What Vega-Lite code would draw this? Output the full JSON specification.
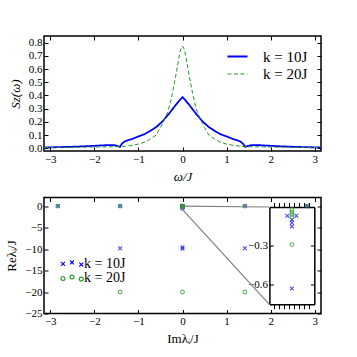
{
  "$schema": "https://vega.github.io/schema/vega-lite/v6.json",
  "padding": {"left": 5, "top": 34, "right": 5, "bottom": 5},
  "background": "white",
  "datasets": {
    "curves": [
      {"w": -3.1416, "S": 0.007, "series": "k = 10J"},
      {"w": -2.8, "S": 0.009, "series": "k = 10J"},
      {"w": -2.4, "S": 0.013, "series": "k = 10J"},
      {"w": -2.0, "S": 0.019, "series": "k = 10J"},
      {"w": -1.8, "S": 0.023, "series": "k = 10J"},
      {"w": -1.65, "S": 0.025, "series": "k = 10J"},
      {"w": -1.55, "S": 0.024, "series": "k = 10J"},
      {"w": -1.48, "S": 0.018, "series": "k = 10J"},
      {"w": -1.42, "S": 0.011, "series": "k = 10J"},
      {"w": -1.38, "S": 0.032, "series": "k = 10J"},
      {"w": -1.32, "S": 0.05, "series": "k = 10J"},
      {"w": -1.25, "S": 0.06, "series": "k = 10J"},
      {"w": -1.15, "S": 0.07, "series": "k = 10J"},
      {"w": -1.0, "S": 0.09, "series": "k = 10J"},
      {"w": -0.87, "S": 0.106, "series": "k = 10J"},
      {"w": -0.75, "S": 0.128, "series": "k = 10J"},
      {"w": -0.6, "S": 0.16, "series": "k = 10J"},
      {"w": -0.45, "S": 0.205, "series": "k = 10J"},
      {"w": -0.3, "S": 0.265, "series": "k = 10J"},
      {"w": -0.15, "S": 0.33, "series": "k = 10J"},
      {"w": -0.05, "S": 0.37, "series": "k = 10J"},
      {"w": 0, "S": 0.388, "series": "k = 10J"},
      {"w": 0.05, "S": 0.37, "series": "k = 10J"},
      {"w": 0.15, "S": 0.33, "series": "k = 10J"},
      {"w": 0.3, "S": 0.265, "series": "k = 10J"},
      {"w": 0.45, "S": 0.205, "series": "k = 10J"},
      {"w": 0.6, "S": 0.16, "series": "k = 10J"},
      {"w": 0.75, "S": 0.128, "series": "k = 10J"},
      {"w": 0.87, "S": 0.106, "series": "k = 10J"},
      {"w": 1.0, "S": 0.09, "series": "k = 10J"},
      {"w": 1.15, "S": 0.07, "series": "k = 10J"},
      {"w": 1.25, "S": 0.06, "series": "k = 10J"},
      {"w": 1.32, "S": 0.05, "series": "k = 10J"},
      {"w": 1.38, "S": 0.032, "series": "k = 10J"},
      {"w": 1.42, "S": 0.011, "series": "k = 10J"},
      {"w": 1.48, "S": 0.018, "series": "k = 10J"},
      {"w": 1.55, "S": 0.024, "series": "k = 10J"},
      {"w": 1.65, "S": 0.025, "series": "k = 10J"},
      {"w": 1.8, "S": 0.023, "series": "k = 10J"},
      {"w": 2.0, "S": 0.019, "series": "k = 10J"},
      {"w": 2.4, "S": 0.013, "series": "k = 10J"},
      {"w": 2.8, "S": 0.009, "series": "k = 10J"},
      {"w": 3.1416, "S": 0.007, "series": "k = 10J"},
      {"w": -3.1416, "S": 0.006, "series": "k = 20J"},
      {"w": -2.5, "S": 0.008, "series": "k = 20J"},
      {"w": -2.0, "S": 0.01, "series": "k = 20J"},
      {"w": -1.6, "S": 0.012, "series": "k = 20J"},
      {"w": -1.42, "S": 0.013, "series": "k = 20J"},
      {"w": -1.3, "S": 0.017, "series": "k = 20J"},
      {"w": -1.17, "S": 0.022, "series": "k = 20J"},
      {"w": -1.0, "S": 0.032, "series": "k = 20J"},
      {"w": -0.87, "S": 0.046, "series": "k = 20J"},
      {"w": -0.75, "S": 0.066, "series": "k = 20J"},
      {"w": -0.6, "S": 0.1, "series": "k = 20J"},
      {"w": -0.5, "S": 0.158, "series": "k = 20J"},
      {"w": -0.42, "S": 0.212, "series": "k = 20J"},
      {"w": -0.34, "S": 0.27, "series": "k = 20J"},
      {"w": -0.28, "S": 0.34, "series": "k = 20J"},
      {"w": -0.23, "S": 0.415, "series": "k = 20J"},
      {"w": -0.18, "S": 0.5, "series": "k = 20J"},
      {"w": -0.12, "S": 0.61, "series": "k = 20J"},
      {"w": -0.08, "S": 0.69, "series": "k = 20J"},
      {"w": -0.04, "S": 0.75, "series": "k = 20J"},
      {"w": 0, "S": 0.775, "series": "k = 20J"},
      {"w": 0.04, "S": 0.75, "series": "k = 20J"},
      {"w": 0.08, "S": 0.69, "series": "k = 20J"},
      {"w": 0.12, "S": 0.61, "series": "k = 20J"},
      {"w": 0.18, "S": 0.5, "series": "k = 20J"},
      {"w": 0.23, "S": 0.415, "series": "k = 20J"},
      {"w": 0.28, "S": 0.34, "series": "k = 20J"},
      {"w": 0.34, "S": 0.27, "series": "k = 20J"},
      {"w": 0.42, "S": 0.212, "series": "k = 20J"},
      {"w": 0.5, "S": 0.158, "series": "k = 20J"},
      {"w": 0.6, "S": 0.1, "series": "k = 20J"},
      {"w": 0.75, "S": 0.066, "series": "k = 20J"},
      {"w": 0.87, "S": 0.046, "series": "k = 20J"},
      {"w": 1.0, "S": 0.032, "series": "k = 20J"},
      {"w": 1.17, "S": 0.022, "series": "k = 20J"},
      {"w": 1.3, "S": 0.017, "series": "k = 20J"},
      {"w": 1.42, "S": 0.013, "series": "k = 20J"},
      {"w": 1.6, "S": 0.012, "series": "k = 20J"},
      {"w": 2.0, "S": 0.01, "series": "k = 20J"},
      {"w": 2.5, "S": 0.008, "series": "k = 20J"},
      {"w": 3.1416, "S": 0.006, "series": "k = 20J"}
    ],
    "eig": [
      {"im": -2.828, "re": 0, "series": "k = 10J"},
      {"im": -1.414, "re": 0, "series": "k = 10J"},
      {"im": 1.414, "re": 0, "series": "k = 10J"},
      {"im": 2.828, "re": 0, "series": "k = 10J"},
      {"im": -1.414, "re": -9.8, "series": "k = 10J"},
      {"im": 0, "re": -9.6, "series": "k = 10J"},
      {"im": 0, "re": -9.95, "series": "k = 10J"},
      {"im": 1.414, "re": -9.8, "series": "k = 10J"},
      {"im": -0.0009, "re": -0.067, "series": "k = 10J"},
      {"im": 0.0009, "re": -0.067, "series": "k = 10J"},
      {"im": 0, "re": -0.098, "series": "k = 10J"},
      {"im": 0, "re": -0.122, "series": "k = 10J"},
      {"im": 0, "re": -0.15, "series": "k = 10J"},
      {"im": 0, "re": -0.628, "series": "k = 10J"},
      {"im": -2.828, "re": 0, "series": "k = 20J"},
      {"im": -1.414, "re": 0, "series": "k = 20J"},
      {"im": 1.414, "re": 0, "series": "k = 20J"},
      {"im": 2.828, "re": 0, "series": "k = 20J"},
      {"im": -1.414, "re": -20, "series": "k = 20J"},
      {"im": 0, "re": -20, "series": "k = 20J"},
      {"im": 1.414, "re": -20, "series": "k = 20J"},
      {"im": 0, "re": -0.019, "series": "k = 20J"},
      {"im": 0, "re": -0.038, "series": "k = 20J"},
      {"im": 0, "re": -0.058, "series": "k = 20J"},
      {"im": 0, "re": -0.077, "series": "k = 20J"},
      {"im": 0, "re": -0.29, "series": "k = 20J"}
    ],
    "conn": [
      {"x": -0.0045, "y": 0, "x2": 1.97, "y2": -0.21},
      {"x": -0.0045, "y": -0.75, "x2": 1.97, "y2": -22.86}
    ],
    "box": [
      {"x": -0.0045, "x2": 0.0045, "y": -0.75, "y2": 0}
    ]
  },
  "vconcat": [
    {
      "width": 277,
      "height": 115,
      "layer": [
        {
          "data": {"name": "curves"},
          "mark": {"type": "line"},
          "encoding": {
            "x": {"field": "w", "type": "quantitative", "scale": {"domain": [-3.1416, 3.1416], "nice": false, "zero": false},
                  "axis": {"orient": "bottom", "values": [-3, -2, -1, 0, 1, 2, 3], "format": "d", "title": "ω/J", "titleFontStyle": "italic"}},
            "y": {"field": "S", "type": "quantitative", "scale": {"domain": [-0.02, 0.85], "nice": false, "zero": false},
                  "axis": {"orient": "left", "values": [0, 0.1, 0.2, 0.3, 0.4, 0.5, 0.6, 0.7, 0.8], "format": ".1f", "title": "Sz(ω)", "titleFontStyle": "italic"}},
            "color": {"field": "series", "type": "nominal", "scale": {"domain": ["k = 10J", "k = 20J"], "range": ["#0000ff", "#229922"]},
                      "legend": {"title": null, "orient": "none", "legendX": 184, "legendY": 11, "symbolSize": 289, "symbolType": "M-1.18,0L1.18,0", "labelOffset": 16, "rowPadding": 0, "padding": 0,
                                 "labelFont": "Liberation Serif", "labelFontSize": 15}},
            "strokeDash": {"field": "series", "type": "nominal", "scale": {"domain": ["k = 10J", "k = 20J"], "range": [[1, 0], [4, 2.5]]},
                      "legend": {"title": null, "orient": "none", "legendX": 184, "legendY": 11, "symbolSize": 289, "symbolType": "M-1.18,0L1.18,0", "labelOffset": 16, "rowPadding": 0, "padding": 0,
                                 "labelFont": "Liberation Serif", "labelFontSize": 15}},
            "strokeWidth": {"field": "series", "type": "nominal", "scale": {"domain": ["k = 10J", "k = 20J"], "range": [1.8, 1]},
                      "legend": {"title": null, "orient": "none", "legendX": 184, "legendY": 11, "symbolSize": 289, "symbolType": "M-1.18,0L1.18,0", "labelOffset": 16, "rowPadding": 0, "padding": 0,
                                 "labelFont": "Liberation Serif", "labelFontSize": 15}}
          }
        },
        {
          "data": {"name": "curves"},
          "mark": {"type": "point", "opacity": 0},
          "encoding": {
            "x": {"field": "w", "type": "quantitative", "axis": {"orient": "top", "values": [-3, -2, -1, 0, 1, 2, 3], "labels": false, "title": null}},
            "y": {"field": "S", "type": "quantitative", "axis": {"orient": "right", "values": [0, 0.1, 0.2, 0.3, 0.4, 0.5, 0.6, 0.7, 0.8], "labels": false, "title": null}}
          }
        }
      ],
      "resolve": {"axis": {"x": "independent", "y": "independent"}}
    },
    {
      "width": 277,
      "height": 116,
      "layer": [
        {
          "layer": [
            {
              "data": {"name": "eig"},
              "mark": {"type": "point", "filled": false, "strokeWidth": 1.1, "size": 14},
              "encoding": {
                "x": {"field": "im", "type": "quantitative", "scale": {"domain": [-3.1416, 3.1416], "nice": false, "zero": false},
                      "axis": {"orient": "bottom", "values": [-3, -2, -1, 0, 1, 2, 3], "format": "d", "title": "Imλᵢ/J"}},
                "y": {"field": "re", "type": "quantitative", "scale": {"domain": [-25, 2], "nice": false, "zero": false},
                      "axis": {"orient": "left", "values": [0, -5, -10, -15, -20, -25], "format": "d", "title": "Reλᵢ/J"}},
                "color": {"field": "series", "type": "nominal", "scale": {"domain": ["k = 10J", "k = 20J"], "range": ["#0000ff", "#229922"]}, "legend": null},
                "shape": {"field": "series", "type": "nominal", "scale": {"domain": ["k = 10J", "k = 20J"], "range": ["M-1,-1L1,1M1,-1L-1,1", "circle"]}, "legend": null}
              }
            },
            {
              "data": {"name": "eig"},
              "transform": [{"filter": "false"}],
              "mark": {"type": "point", "filled": false, "strokeWidth": 1.1},
              "encoding": {
                "color": {"field": "series", "type": "nominal", "scale": {"domain": ["k = 10J", "k = 20J"], "range": ["#0000ff", "#229922"]},
                          "legend": {"title": null, "orient": "none", "legendX": 21, "legendY": 59, "symbolSize": 144, "labelOffset": 5, "rowPadding": 0, "padding": 0,
                                     "symbolStrokeWidth": 1.1, "symbolOpacity": 1, "labelFont": "Liberation Serif", "labelFontSize": 14}},
                "shape": {"field": "series", "type": "nominal", "scale": {"domain": ["k = 10J", "k = 20J"], "range": [
                  "M-1.83,-0.26L-1.17,0.4M-1.17,-0.26L-1.83,0.4M-0.33,-0.5L0.33,0.16M0.33,-0.5L-0.33,0.16M1.22,-0.16L1.88,0.5M1.88,-0.16L1.22,0.5",
                  "M-1.17,0.17A0.33,0.33 0 1,1 -1.83,0.17A0.33,0.33 0 1,1 -1.17,0.17ZM0.33,-0.07A0.33,0.33 0 1,1 -0.33,-0.07A0.33,0.33 0 1,1 0.33,-0.07ZM1.88,0.27A0.33,0.33 0 1,1 1.22,0.27A0.33,0.33 0 1,1 1.88,0.27Z"]},
                          "legend": {"title": null, "orient": "none", "legendX": 21, "legendY": 59, "symbolSize": 144, "labelOffset": 5, "rowPadding": 0, "padding": 0,
                                     "symbolStrokeWidth": 1.1, "symbolOpacity": 1, "labelFont": "Liberation Serif", "labelFontSize": 14}}
              }
            },
            {
              "data": {"name": "conn"},
              "mark": {"type": "rule", "color": "#808080", "strokeWidth": 1.2},
              "encoding": {
                "x": {"field": "x", "type": "quantitative", "axis": null},
                "y": {"field": "y", "type": "quantitative", "axis": null},
                "x2": {"field": "x2"},
                "y2": {"field": "y2"}
              }
            },
            {
              "data": {"name": "box"},
              "mark": {"type": "rect", "fillOpacity": 0, "stroke": "#808080", "strokeWidth": 1.2},
              "encoding": {
                "x": {"field": "x", "type": "quantitative", "axis": {"orient": "top", "values": [-3, -2, -1, 0, 1, 2, 3], "labels": false, "title": null}},
                "y": {"field": "y", "type": "quantitative", "axis": {"orient": "right", "values": [0, -5, -10, -15, -20, -25], "labels": false, "title": null}},
                "x2": {"field": "x2"},
                "y2": {"field": "y2"}
              }
            }
          ],
          "resolve": {"axis": {"x": "independent", "y": "independent"},
                      "scale": {"color": "independent", "shape": "independent"},
                      "legend": {"color": "independent", "shape": "independent"}}
        },
        {
          "data": {"name": "eig"},
          "transform": [{"filter": "abs(datum.im) <= 0.0045 && datum.re >= -0.75"}],
          "layer": [
            {
              "mark": {"type": "point", "filled": false, "strokeWidth": 1.1, "size": 14},
              "encoding": {
                "x": {"field": "im", "type": "quantitative", "scale": {"domain": [-0.0045, 0.0045], "range": [225.4, 270.3], "nice": false, "zero": false},
                      "axis": {"orient": "bottom", "offset": -9.2, "values": [-0.0035, -0.0025, -0.0015, -0.0005, 0.0005, 0.0015, 0.0025, 0.0035], "labels": false, "title": null, "tickSize": 4.5, "domain": true, "domainColor": "black", "domainWidth": 1.5}},
                "y": {"field": "re", "type": "quantitative", "scale": {"domain": [-0.75, 0], "range": [106.8, 9.5], "nice": false, "zero": false},
                      "axis": {"orient": "left", "offset": -225.4, "values": [-0.3, -0.6], "format": ".1f", "title": null, "domain": true, "domainColor": "black", "domainWidth": 1.5}},
                "color": {"field": "series", "type": "nominal", "scale": {"domain": ["k = 10J", "k = 20J"], "range": ["#0000ff", "#229922"]}, "legend": null},
                "shape": {"field": "series", "type": "nominal", "scale": {"domain": ["k = 10J", "k = 20J"], "range": ["M-1,-1L1,1M1,-1L-1,1", "circle"]}, "legend": null}
              }
            },
            {
              "mark": {"type": "point", "opacity": 0},
              "encoding": {
                "x": {"field": "im", "type": "quantitative",
                      "axis": {"orient": "top", "offset": -9.5, "values": [-0.0035, -0.0025, -0.0015, -0.0005, 0.0005, 0.0015, 0.0025, 0.0035], "labels": false, "title": null, "tickSize": 4.5, "domain": true, "domainColor": "black", "domainWidth": 1.5}},
                "y": {"field": "re", "type": "quantitative",
                      "axis": {"orient": "right", "offset": -6.7, "values": [-0.3, -0.6], "labels": false, "title": null, "domain": true, "domainColor": "black", "domainWidth": 1.5}}
              }
            }
          ],
          "resolve": {"axis": {"x": "independent", "y": "independent"}}
        }
      ],
      "resolve": {"scale": {"x": "independent", "y": "independent", "color": "independent", "shape": "independent"},
                  "legend": {"color": "independent", "shape": "independent"}}
    }
  ],
  "spacing": 46.5,
  "bounds": "flush",
  "resolve": {"scale": {"color": "independent", "strokeDash": "independent", "shape": "independent", "strokeWidth": "independent"}},
  "config": {
    "font": "Liberation Serif",
    "view": {"stroke": "black", "strokeWidth": 1.5},
    "axis": {"domain": false, "grid": false, "tickColor": "black", "tickSize": -4, "tickWidth": 1,
             "labelFont": "Liberation Serif", "labelFontSize": 11, "labelColor": "black", "labelPadding": 6,
             "titleFont": "Liberation Serif", "titleFontSize": 13, "titleFontWeight": "normal", "titleColor": "black", "titlePadding": 6},
    "legend": {"labelFont": "Liberation Serif", "labelFontSize": 15, "labelColor": "black"}
  }
}
